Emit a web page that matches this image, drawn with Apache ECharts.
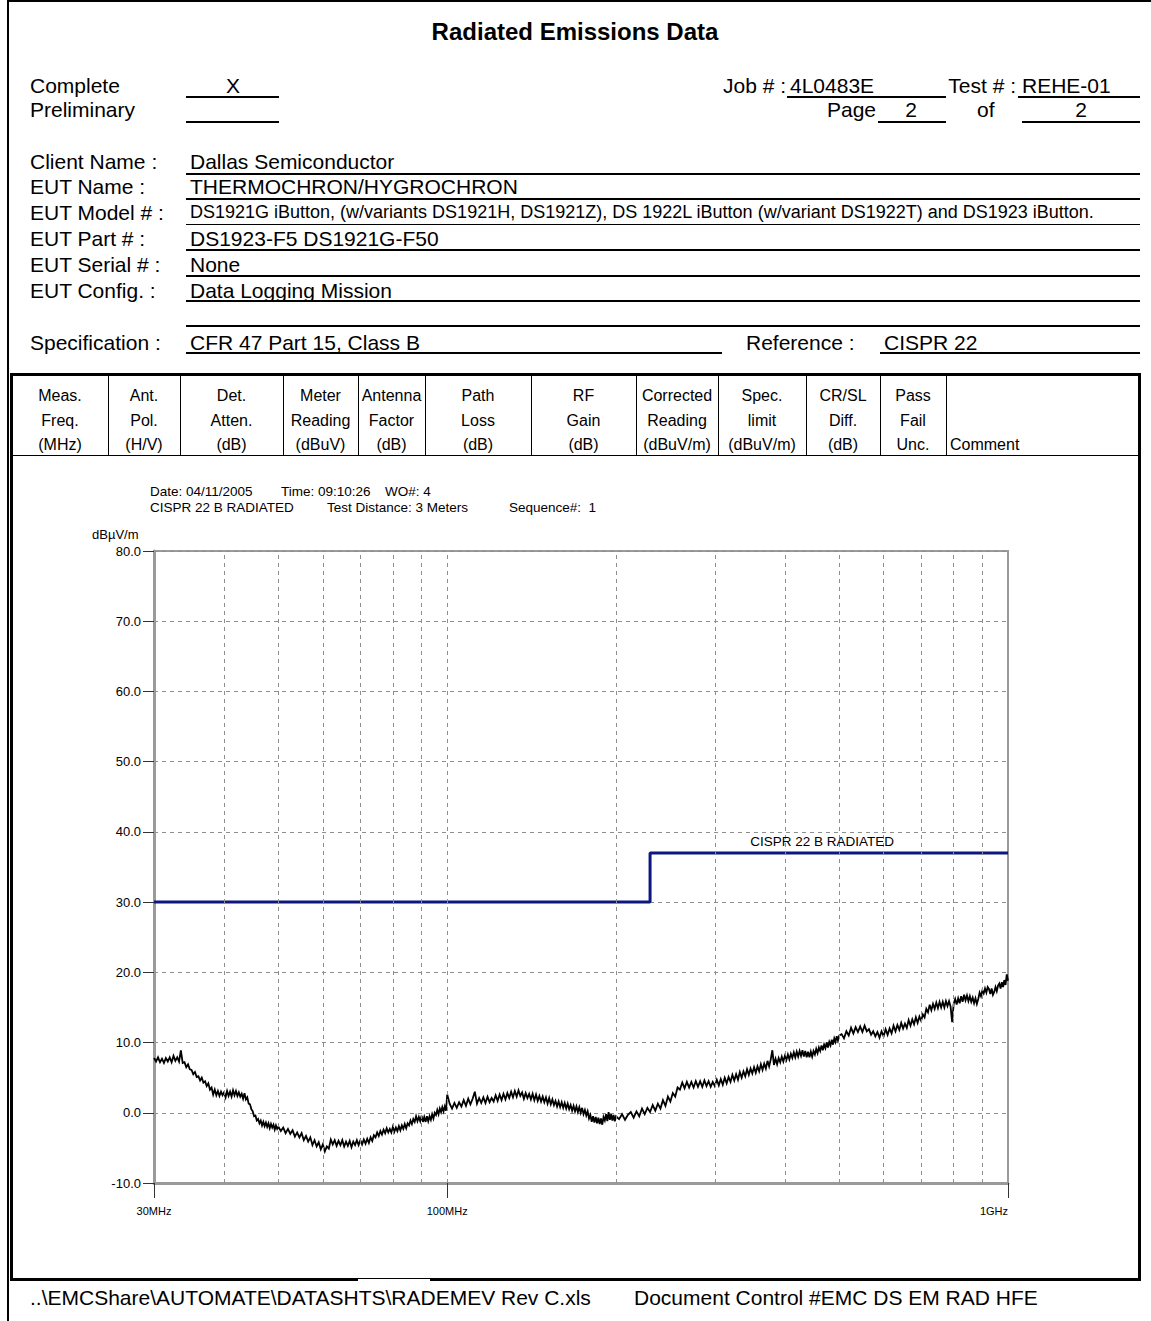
<!DOCTYPE html>
<html>
<head>
<meta charset="utf-8">
<script src="https://cdn.jsdelivr.net/npm/echarts@6/dist/echarts.min.js"></script>
<style>
html,body{margin:0;padding:0;background:#fff;}
#page{position:relative;width:1151px;height:1321px;overflow:hidden;font-family:'Liberation Sans',Arial,sans-serif;color:#000;background:#fff;}
.t{position:absolute;white-space:nowrap;}
.l{position:absolute;background:#000;}
#chart{position:absolute;left:0;top:0;width:1151px;height:1321px;pointer-events:none;}
</style>
</head>
<body>
<div id="page"><div id="chart"></div></div>
<script>
// ---------------- DATA ----------------
// Measured trace (dBuV/m), sweep segments: [start MHz, step MHz]
const sweepPlan = [[30, 0.25], [50.5, 0.5], [101, 1], [202.5, 2.5], [505, 5]];
const traceA = [7.8, 7.3, 7.9, 7.2, 7.7, 7.1, 7.8, 7.3, 7.9, 7.2, 8.1, 7.4, 7.9, 7.3, 8.9, 7.1,
  7.2, 6.5, 6.9, 6.2, 6.1, 5.5, 5.8, 5.1, 5.2, 4.6, 5.0, 4.3, 4.5, 3.8, 4.2, 3.3,
  3.6, 2.6, 3.3, 2.5, 3.1, 2.4, 3.0, 2.5, 2.9, 2.2, 3.1, 2.4, 3.0, 2.3, 3.2, 2.5,
  3.1, 2.4, 2.9, 2.3, 2.7, 2.0, 2.8, 1.9, 2.2, 1.3, 1.2, 0.5, 0.2, -0.5, -0.4, -1.1,
  -0.9, -1.5, -1.1, -1.8, -1.3, -1.9, -1.4, -2.0, -1.5, -2.2, -1.6, -2.1, -1.7, -2.4, -1.8, -2.3,
  -2.0];
const traceB = [-2.6, -2.1,
  -2.9, -2.3, -3.0, -2.5, -3.4, -2.8, -3.5, -2.9, -3.9, -3.3, -4.1, -3.5, -4.6, -3.9, -4.8, -4.2,
  -5.2, -4.5, -5.5, -4.8, -5.1, -3.8, -4.5, -3.9, -4.7, -4.0, -4.6, -3.9, -4.8, -4.1, -4.7, -4.0,
  -4.9, -4.1, -4.6, -3.9, -4.6, -3.9, -4.5, -3.8, -4.4, -3.7, -4.3, -3.5, -4.0, -3.2, -3.5, -2.8,
  -3.3, -2.6, -3.1, -2.4, -2.9, -2.2, -2.8, -2.3, -2.8, -2.0, -2.7, -2.1, -2.6, -1.9, -2.5, -1.8,
  -2.3, -1.6, -2.2, -1.5, -1.8, -1.1, -1.6, -0.9, -1.3, -0.5, -1.2, -0.6, -1.2, -0.4, -1.3, -0.6,
  -1.3, -0.5, -1.2, -0.5, -1.0, -0.2, -0.8, 0.0, -0.3, 0.4, -0.2, 0.6, 0.1, 0.8, 0.2, 0.9,
  0.3, 2.6];
const traceC = [1.3, 0.6, 1.4, 0.7, 1.5, 0.9, 1.8, 1.0, 2.0, 1.2,
  2.0, 3.0, 1.3, 2.1, 1.4, 2.2, 1.4, 2.3, 1.5, 2.1,
  1.6, 2.5, 1.7, 2.6, 1.8, 2.7, 1.9, 2.8, 2.1, 3.0,
  2.2, 3.1, 2.3, 3.2, 2.4, 2.9, 2.0, 2.8, 2.1, 2.7,
  1.9, 2.7, 1.8, 2.6, 1.7, 2.4, 1.6, 2.3, 1.5, 2.2,
  1.3, 2.1, 1.2, 1.9, 1.1, 1.7, 0.9, 1.6, 0.8, 1.5,
  0.7, 1.4, 0.6, 1.3, 0.5, 1.1, 0.3, 1.0, 0.2, 0.9,
  0.1, 0.8, 0.0, 0.7, -0.2, 0.4, -0.4, 0.2, -0.8, -0.3,
  -1.3, -0.5, -1.4, -0.6, -1.5, -0.7, -1.6, -0.8, -1.7, -0.6,
  -1.1, -0.2, -1.2, 0.1, -1.0, -0.2, -1.1, -0.3, -1.2, -0.5];
const traceD = [-0.9, -0.2, -1.0, -0.3, 0.1, -0.7, 0.2, -0.5, 0.6, -0.2, 0.7, 0.1,
  1.1, 0.3, 1.3, 0.6, 1.8, 1.0, 2.3, 1.6, 2.8, 2.3, 3.6, 3.3,
  4.3, 3.5, 4.4, 3.6, 4.4, 3.6, 4.5, 3.7, 4.5, 3.7, 4.6, 3.8,
  4.5, 3.7, 4.4, 3.8, 4.7, 3.9, 4.8, 4.0, 5.0, 4.2, 5.1, 4.4,
  5.4, 4.6, 5.5, 4.7, 5.8, 5.0, 5.9, 5.2, 6.2, 5.4, 6.3, 5.6,
  6.5, 5.7, 6.6, 5.9, 6.9, 6.1, 7.0, 6.3, 7.4, 6.6, 7.6, 8.9,
  6.8, 7.7, 6.9, 7.8, 7.2, 8.0, 7.3, 8.1, 7.5, 8.3, 7.6, 8.4,
  7.8, 8.6, 7.9, 8.7, 8.0, 8.8, 8.1, 8.9, 8.0, 8.8, 7.9, 8.7,
  7.9, 8.7, 8.0, 8.8, 8.3, 9.1, 8.5, 9.3, 8.8, 9.6, 8.9, 9.7,
  9.2, 10.0, 9.3, 10.1, 9.6, 10.4, 9.7, 10.6, 10.1, 10.9, 10.3, 11.0];
const traceE = [11.2, 10.6, 11.6, 11.0, 12.1, 11.3, 12.2, 11.5, 12.3, 11.5, 12.4, 11.6,
  11.9, 11.1, 11.6, 10.9, 11.5, 10.7, 11.6, 10.9, 11.9, 11.1, 12.0, 11.3,
  12.4, 11.6, 12.5, 11.8, 12.8, 12.0, 12.7, 12.1, 13.2, 12.4, 13.3, 12.6,
  13.6, 12.8, 13.7, 13.1, 14.0, 13.6, 14.8, 14.3, 15.4, 14.6, 15.5, 14.8,
  15.7, 14.9, 15.8, 15.0, 15.8, 15.0, 15.9, 15.2, 15.9, 15.1, 12.9, 15.5,
  16.2, 15.4, 16.3, 15.6, 16.6, 15.8, 16.8, 16.0, 16.7, 15.9, 16.6, 15.8,
  16.4, 15.6, 16.3, 15.5, 16.2, 17.1, 16.6, 17.4, 17.0, 17.7, 17.1, 17.9,
  17.6, 16.9, 17.7, 16.8, 17.2, 17.9, 17.3, 18.1, 18.4, 17.7, 18.6, 17.9,
  18.9, 18.2, 19.7, 18.8];
// CISPR 22 class B radiated limit
const limitFreqMHz = [30, 230, 230, 1000];
const limitLevel = [30, 30, 37, 37];
const limitName = 'CISPR 22 B RADIATED';
const limitLabelFreq = 466;
// axes
const gridFreqsMHz = [40, 50, 60, 70, 80, 90, 100, 200, 300, 400, 500, 600, 700, 800, 900];
const xTickValues = [30, 100, 1000];
const xTickLabels = ['30MHz', '100MHz', '1GHz'];
const yMin = -10, yMax = 80, yStep = 10;

// ---------------- FORM (HTML text) ----------------
const page = document.getElementById('page');
function T(txt, x, yc, size, align, bold) {
  const d = document.createElement('div');
  d.className = 't';
  d.textContent = txt;
  const L = Math.round(size * 1.2);
  d.style.fontSize = size + 'px';
  d.style.lineHeight = L + 'px';
  d.style.top = (yc - L / 2 + 0.01 * size) + 'px';
  d.style.left = x + 'px';
  if (bold) d.style.fontWeight = 'bold';
  if (align === 'c') d.style.transform = 'translateX(-50%)';
  if (align === 'r') d.style.transform = 'translateX(-100%)';
  page.appendChild(d);
}
function L(x, y, w, h) {
  const d = document.createElement('div');
  d.className = 'l';
  d.style.left = x + 'px'; d.style.top = y + 'px';
  d.style.width = w + 'px'; d.style.height = h + 'px';
  page.appendChild(d);
}
// page frame
L(7, 0, 1144, 2); L(7, 0, 2, 1321);
T('Radiated Emissions Data', 575, 31, 24, 'c', true);
const FS = 21;
T('Complete', 30, 85, FS); T('Preliminary', 30, 109, FS);
T('X', 233, 85, FS, 'c');
L(186, 96, 93, 2); L(186, 121, 93, 2);
T('Job # :', 786, 85, FS, 'r'); T('4L0483E', 790, 85, FS); L(787, 96, 159, 2);
T('Test # :', 1016, 85, FS, 'r'); T('REHE-01', 1022, 85, FS); L(1018, 96, 122, 2);
T('Page', 827, 109, FS); T('2', 911, 109, FS, 'c'); L(878, 121, 68, 2);
T('of', 977, 109, FS); T('2', 1081, 109, FS, 'c'); L(1022, 121, 118, 2);

const infoLabels = ['Client Name :', 'EUT Name :', 'EUT Model # :', 'EUT Part # :', 'EUT Serial # :', 'EUT Config. :'];
const infoValues = ['Dallas Semiconductor', 'THERMOCHRON/HYGROCHRON',
  'DS1921G iButton, (w/variants DS1921H, DS1921Z), DS 1922L iButton (w/variant DS1922T) and DS1923 iButton.',
  'DS1923-F5 DS1921G-F50', 'None', 'Data Logging Mission'];
const infoY = [161, 186, 212, 238, 264, 290];
const infoLineY = [173, 198, 224, 249, 275, 300, 325];
infoLabels.forEach((s, i) => T(s, 30, infoY[i], FS));
infoValues.forEach((s, i) => T(s, 190, infoY[i], i === 2 ? 18 : FS));
infoLineY.forEach((y, i) => L(186, y, 954, i === 2 ? 1 : 2));
T('Specification :', 30, 342, FS); T('CFR 47 Part 15, Class B', 190, 342, FS); L(186, 352, 536, 2);
T('Reference :', 746, 342, FS); T('CISPR 22', 884, 342, FS); L(880, 352, 260, 2);

// table
L(10, 373, 1131, 3); L(10, 373, 3, 908); L(1138, 373, 3, 908);
L(10, 1278, 348, 3); L(358, 1278, 72, 1); L(430, 1278, 711, 3);
L(13, 455, 1125, 1);
const colEdges = [12, 108, 180, 283, 358, 425, 531, 636, 718, 806, 880, 946, 1138];
const headers = [['Meas.', 'Freq.', '(MHz)'], ['Ant.', 'Pol.', '(H/V)'], ['Det.', 'Atten.', '(dB)'],
  ['Meter', 'Reading', '(dBuV)'], ['Antenna', 'Factor', '(dB)'], ['Path', 'Loss', '(dB)'], ['RF', 'Gain', '(dB)'],
  ['Corrected', 'Reading', '(dBuV/m)'], ['Spec.', 'limit', '(dBuV/m)'], ['CR/SL', 'Diff.', '(dB)'], ['Pass', 'Fail', 'Unc.']];
const headY = [395, 420, 444];
for (let i = 1; i < colEdges.length - 1; i++) L(colEdges[i], 376, 1, 79);
headers.forEach((h, i) => {
  const cx = (colEdges[i] + colEdges[i + 1]) / 2;
  h.forEach((s, r) => T(s, cx, headY[r], 16, 'c'));
});
T('Comment', 950, 444, 16);

T('..\\EMCShare\\AUTOMATE\\DATASHTS\\RADEMEV Rev C.xls', 30, 1297, FS);
T('Document Control #EMC DS EM RAD HFE', 634, 1297, FS);

// ---------------- CHART ----------------
const traces = [traceA, traceB, traceC, traceD, traceE];
const noise = [];
traces.forEach((arr, k) => arr.forEach((v, i) => noise.push([+(sweepPlan[k][0] + i * sweepPlan[k][1]).toFixed(3), v])));
const limit = limitFreqMHz.map((f, i) => [f, limitLevel[i]]);

const chart = echarts.init(document.getElementById('chart'), null, { renderer: 'svg', width: 1151, height: 1321 });
const F = "'Liberation Sans', Arial, sans-serif";
const gridCol = '#8e8e8e';
const axisCol = '#9a9a9a';
function gtext(txt, x, y, size) {
  return { type: 'text', x: x, y: y, silent: true,
    style: { text: txt, fill: '#000', font: size + 'px ' + F, align: 'left', verticalAlign: 'middle', textVerticalAlign: 'middle' } };
}
chart.setOption({
  animation: false,
  backgroundColor: 'transparent',
  grid: { left: 154, top: 551, width: 854, height: 632, show: true, borderColor: axisCol, borderWidth: 2, backgroundColor: 'transparent' },
  xAxis: {
    type: 'log', logBase: 10, min: 30, max: 1000,
    axisLine: { show: true, onZero: false, lineStyle: { color: axisCol, width: 3 } },
    axisTick: { show: true, customValues: xTickValues, length: 15, lineStyle: { color: '#333', width: 1 } },
    axisLabel: { show: true, customValues: xTickValues, margin: 22, fontSize: 11, fontFamily: F, color: '#000',
      formatter: v => { const i = xTickValues.findIndex(t => Math.abs(t - v) < 1e-6 * t); return i >= 0 ? xTickLabels[i] : ''; },
      alignMaxLabel: 'right' },
    splitLine: { show: false }, minorTick: { show: false }, minorSplitLine: { show: false }
  },
  yAxis: {
    type: 'value', min: yMin, max: yMax, interval: yStep,
    axisLine: { show: true, onZero: false, lineStyle: { color: axisCol, width: 3 } },
    axisTick: { show: true, length: 11, lineStyle: { color: '#333', width: 1 } },
    axisLabel: { margin: 13, fontSize: 13, fontFamily: F, color: '#000', formatter: v => v.toFixed(1) },
    splitLine: { show: true, lineStyle: { color: gridCol, width: 1, type: [4, 4] } }
  },
  graphic: [
    gtext('Date: 04/11/2005', 150, 491, 13.5),
    gtext('Time: 09:10:26', 281, 491, 13.5),
    gtext('WO#: 4', 385, 491, 13.5),
    gtext('CISPR 22 B RADIATED', 150, 507, 13.5),
    gtext('Test Distance: 3 Meters', 327, 507, 13.5),
    gtext('Sequence#:  1', 509, 507, 13.5),
    gtext('dBµV/m', 92, 534, 13)
  ],
  series: [
    { type: 'line', data: [], silent: true, z: 1,
      markLine: { silent: true, symbol: ['none', 'none'], label: { show: false }, animation: false,
        lineStyle: { color: gridCol, width: 1, type: [4, 4] },
        data: gridFreqsMHz.map(f => ({ xAxis: f })) } },
    { type: 'line', name: 'trace', data: noise, showSymbol: false, symbol: 'none', silent: true, z: 3,
      lineStyle: { color: '#000', width: 1.8, join: 'miter' } },
    { type: 'line', name: limitName, data: limit, showSymbol: false, symbol: 'none', silent: true, z: 4,
      lineStyle: { color: '#0c1880', width: 3 },
      markPoint: { silent: true, symbol: 'rect', symbolSize: [1, 1], itemStyle: { color: 'rgba(0,0,0,0)' },
        label: { show: true, position: 'top', distance: 4, color: '#000', fontSize: 13.5, fontFamily: F, formatter: limitName },
        data: [{ coord: [limitLabelFreq, limitLevel[3]] }] } }
  ]
});
</script>
</body>
</html>
